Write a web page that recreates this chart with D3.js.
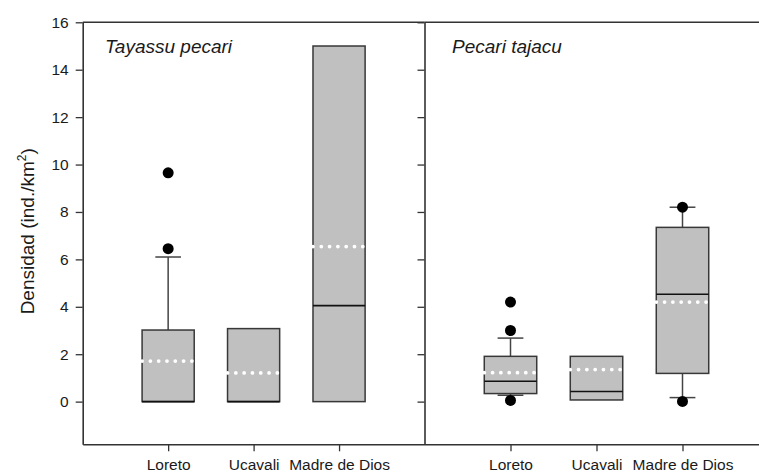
<!DOCTYPE html>
<html>
<head>
<meta charset="utf-8">
<script src="https://cdn.jsdelivr.net/npm/d3@7"></script>
<style>
  html, body { margin: 0; padding: 0; background: #fff; }
  svg { display: block; font-family: "Liberation Sans", Arial, sans-serif; }
</style>
</head>
<body>
<svg id="chart" width="759" height="473"></svg>
<script>
// Sites sampled in both panels
const categories = ["Loreto", "Ucavali", "Madre de Dios"];
const yTicks = [0, 2, 4, 6, 8, 10, 12, 14, 16];

// Tayassu pecari: density (ind./km2) box statistics per site
const tpQ1 = [0, 0, 0];
const tpMedian = [0, 0, 4.05];
const tpQ3 = [3.02, 3.08, 15.0];
const tpWhiskerLow = [0, 0, 0];
const tpWhiskerHigh = [6.1, 3.08, 15.0];
const tpMean = [1.71, 1.21, 6.54];
const tpOutliers = [[9.65, 6.45], [], []];

// Pecari tajacu: density (ind./km2) box statistics per site
const ptQ1 = [0.34, 0.07, 1.19];
const ptMedian = [0.86, 0.43, 4.53];
const ptQ3 = [1.91, 1.91, 7.35];
const ptWhiskerLow = [0.27, 0.07, 0.17];
const ptWhiskerHigh = [2.68, 1.91, 8.2];
const ptMean = [1.22, 1.35, 4.2];
const ptOutliers = [[4.2, 3.0, 0.05], [], [8.2, 0.01]];

const panels = [
  { title: "Tayassu pecari", range: [82.7, 424.5], titleX: 105, showLabels: true,
    q1: tpQ1, median: tpMedian, q3: tpQ3, lo: tpWhiskerLow, hi: tpWhiskerHigh, mean: tpMean, out: tpOutliers },
  { title: "Pecari tajacu", range: [424.5, 768.5], titleX: 452, showLabels: false,
    q1: ptQ1, median: ptMedian, q3: ptQ3, lo: ptWhiskerLow, hi: ptWhiskerHigh, mean: ptMean, out: ptOutliers }
];

const svg = d3.select("#chart");
const plotTop = 22.3, plotBottom = 444.3;
const y = d3.scaleLinear().domain([-1.8, 16]).range([plotBottom, plotTop]);
const frame = "#333";
const textColor = "#1a1a1a";

panels.forEach(p => {
  const x = d3.scaleLinear().domain([0, 4]).range(p.range);
  const pos = i => x(i + 1);
  const half = 0.305, capHalf = 0.15;
  const g = svg.append("g");

  // boxes
  categories.forEach((c, i) => {
    const cx = pos(i);
    const x0 = x(i + 1 - half), x1 = x(i + 1 + half);
    const c0 = x(i + 1 - capHalf), c1 = x(i + 1 + capHalf);
    // whiskers
    if (p.hi[i] > p.q3[i]) {
      g.append("line").attr("x1", cx).attr("x2", cx).attr("y1", y(p.q3[i])).attr("y2", y(p.hi[i]))
        .attr("stroke", "#444").attr("stroke-width", 1.5);
      g.append("line").attr("x1", c0).attr("x2", c1).attr("y1", y(p.hi[i])).attr("y2", y(p.hi[i]))
        .attr("stroke", "#444").attr("stroke-width", 1.5);
    }
    if (p.lo[i] < p.q1[i]) {
      g.append("line").attr("x1", cx).attr("x2", cx).attr("y1", y(p.q1[i])).attr("y2", y(p.lo[i]))
        .attr("stroke", "#444").attr("stroke-width", 1.5);
      g.append("line").attr("x1", c0).attr("x2", c1).attr("y1", y(p.lo[i])).attr("y2", y(p.lo[i]))
        .attr("stroke", "#444").attr("stroke-width", 1.5);
    }
    g.append("rect").attr("x", x0).attr("y", y(p.q3[i]))
      .attr("width", x1 - x0).attr("height", y(p.q1[i]) - y(p.q3[i]))
      .attr("fill", "#c0c0c0").attr("stroke", "#383838").attr("stroke-width", 1.5);
    // median
    g.append("line").attr("x1", x0).attr("x2", x1).attr("y1", y(p.median[i])).attr("y2", y(p.median[i]))
      .attr("stroke", "#111").attr("stroke-width", 1.6);
    // mean (white dotted)
    g.append("line").attr("x1", x0).attr("x2", x1 + 1).attr("y1", y(p.mean[i])).attr("y2", y(p.mean[i]))
      .attr("stroke", "#fff").attr("stroke-width", 3.8)
      .attr("stroke-linecap", "round").attr("stroke-dasharray", "0 8.3");
    // outliers
    p.out[i].forEach(v => {
      g.append("circle").attr("cx", cx).attr("cy", y(v)).attr("r", 5.5).attr("fill", "#000");
    });
  });

  // frame: top line
  g.append("line").attr("x1", p.range[0]).attr("x2", p.range[1]).attr("y1", plotTop).attr("y2", plotTop)
    .attr("stroke", frame).attr("stroke-width", 1.6);

  // bottom axis
  const xAxis = d3.axisBottom(x).tickValues([1, 2, 3]).tickSize(7).tickPadding(8)
    .tickFormat(d => categories[d - 1]).tickSizeOuter(0);
  const ax = svg.append("g").attr("transform", `translate(0,${plotBottom})`).call(xAxis);
  ax.select(".domain").attr("stroke", frame).attr("stroke-width", 1.6);
  ax.selectAll(".tick line").attr("stroke", frame).attr("stroke-width", 1.3);
  ax.selectAll(".tick text").attr("font-size", 15.5).attr("fill", textColor)
    .attr("font-family", "'Liberation Sans', Arial, sans-serif");

  // left axis of each panel
  const yAxis = d3.axisLeft(y).tickValues(yTicks).tickSize(7).tickPadding(7).tickSizeOuter(0)
    .tickFormat(p.showLabels ? d3.format("d") : () => "");
  const ay = svg.append("g").attr("transform", `translate(${p.range[0]},0)`).call(yAxis);
  ay.select(".domain").attr("stroke", frame).attr("stroke-width", 1.6);
  ay.selectAll(".tick line").attr("stroke", frame).attr("stroke-width", 1.3);
  ay.selectAll(".tick text").attr("font-size", 15.5).attr("fill", textColor)
    .attr("font-family", "'Liberation Sans', Arial, sans-serif");

  // panel title
  svg.append("text").attr("x", p.titleX).attr("y", 53)
    .attr("font-size", 19).attr("font-style", "italic").attr("fill", textColor)
    .text(p.title);
});

// y-axis title
const yl = svg.append("text")
  .attr("transform", `translate(34,${(y(-1.8) + y(16)) / 2 - 2}) rotate(-90)`)
  .attr("text-anchor", "middle").attr("font-size", 19).attr("fill", textColor);
yl.append("tspan").text("Densidad (ind./km");
yl.append("tspan").attr("font-size", 12).attr("dy", -8).text("2");
yl.append("tspan").attr("dy", 8).text(")");
</script>
</body>
</html>
